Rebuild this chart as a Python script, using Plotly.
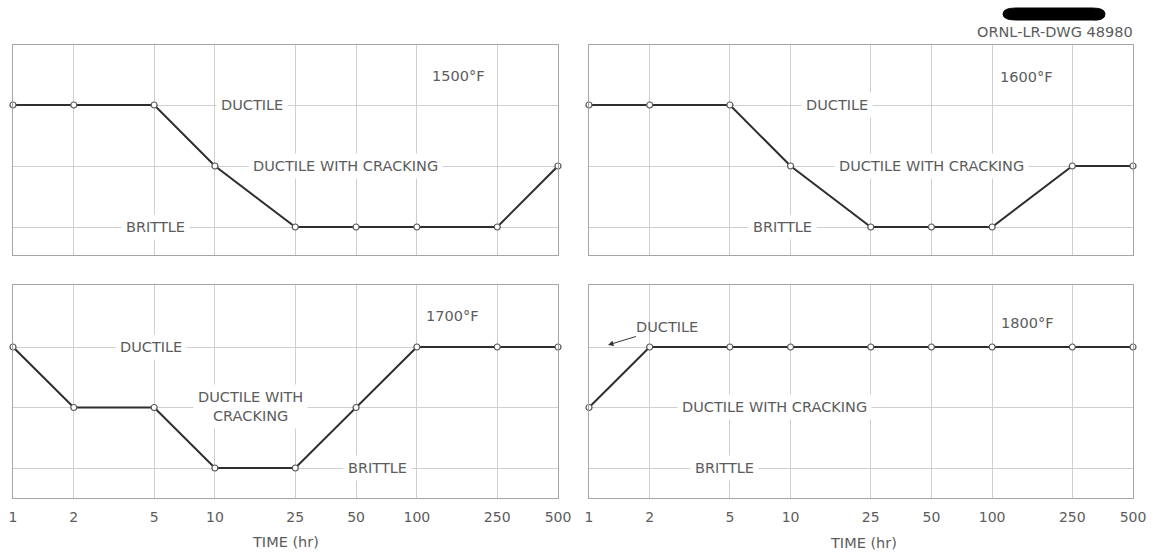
import math
import plotly.graph_objects as go

W, H = 1157, 553

# Exposure times (hr) and tick labels
times = [1, 2, 5, 10, 25, 50, 100, 250, 500]
time_labels = ["1", "2", "5", "10", "25", "50", "100", "250", "500"]

# Behaviour levels, bottom to top
level_names = ["BRITTLE", "DUCTILE WITH CRACKING", "DUCTILE"]
level_index = {"B": 0, "DC": 1, "D": 2}

# Observed behaviour at each exposure time
behavior_1500 = ["D", "D", "D", "DC", "B", "B", "B", "B", "DC"]
behavior_1600 = ["D", "D", "D", "DC", "B", "B", "B", "DC", "DC"]
behavior_1700 = ["D", "DC", "DC", "B", "B", "DC", "D", "D", "D"]
behavior_1800 = ["DC", "D", "D", "D", "D", "D", "D", "D", "D"]

temperatures = ["1500°F", "1600°F", "1700°F", "1800°F"]


def fx(px):
    return px / W


def fy(py):
    return 1 - py / H


TEXT = "#5c5c5c"
GRID = "#cfcfcf"
FRAME = "#a5a5a5"
FONT = "DejaVu Sans"

fig = go.Figure()

series = [behavior_1500, behavior_1600, behavior_1700, behavior_1800]
for i, beh in enumerate(series):
    n = "" if i == 0 else str(i + 1)
    fig.add_trace(go.Scatter(
        x=times,
        y=[level_index[s] for s in beh],
        xaxis="x" + n, yaxis="y" + n,
        mode="lines+markers",
        cliponaxis=False,
        line=dict(color="#2e2e2e", width=2),
        marker=dict(symbol="circle", size=6, color="white",
                    line=dict(color="#555555", width=1.2)),
        showlegend=False,
        hoverinfo="skip",
    ))

# Panel geometry (paper fractions)
x_left = [fx(13), fx(558)]
x_right = [fx(589), fx(1133)]
y_top = [fy(255), fy(45)]
y_bot = [fy(498), fy(285)]

y_range_top = [-28 / 61, 2 + 60 / 61]
y_range_bot = [-30 / 60.5, 2 + 62 / 60.5]


def xaxis(domain, anchor, labels):
    return dict(
        type="log", range=[0, math.log10(500)], domain=domain, anchor=anchor,
        tickvals=times, ticktext=time_labels, showticklabels=labels,
        ticks="", ticklabelstandoff=6,
        tickfont=dict(family=FONT, size=14, color=TEXT),
        showgrid=True, gridcolor=GRID, gridwidth=1, zeroline=False,
        showline=True, linecolor=FRAME, linewidth=1, mirror=True,
        automargin=False, fixedrange=True,
    )


def yaxis(domain, anchor, rng):
    return dict(
        range=rng, domain=domain, anchor=anchor,
        tickvals=[0, 1, 2], showticklabels=False, ticks="",
        showgrid=True, gridcolor=GRID, gridwidth=1, zeroline=False,
        showline=True, linecolor=FRAME, linewidth=1, mirror=True,
        automargin=False, fixedrange=True,
    )


annotations = []


def label(text, px, py, size=14.5, bg=True, **kw):
    d = dict(text=text, x=fx(px), y=fy(py), xref="paper", yref="paper",
             xanchor="center", yanchor="middle", showarrow=False,
             font=dict(family=FONT, size=size, color=TEXT))
    if bg:
        d.update(bgcolor="white", borderpad=4)
    d.update(kw)
    annotations.append(d)


# 1500°F
label("DUCTILE", 252, 105)
label("DUCTILE WITH CRACKING", 345, 166)
label("BRITTLE", 155, 227)
label(temperatures[0], 458, 76, bg=False)
# 1600°F
label("DUCTILE", 837, 105)
label("DUCTILE WITH CRACKING", 931, 166)
label("BRITTLE", 782, 227)
label(temperatures[1], 1026, 77, bg=False)
# 1700°F
label("DUCTILE", 151, 347)
label("DUCTILE WITH<br>CRACKING", 250, 406)
label("BRITTLE", 377, 468)
label(temperatures[2], 452, 316, bg=False)
# 1800°F
annotations.append(dict(
    text="DUCTILE", x=fx(608), y=fy(345), xref="paper", yref="paper",
    ax=59, ay=-18, showarrow=True, arrowhead=2, arrowsize=1.1,
    arrowwidth=1, arrowcolor="#333333", standoff=0,
    font=dict(family=FONT, size=14.5, color=TEXT),
))
label("DUCTILE WITH CRACKING", 774, 407)
label("BRITTLE", 725, 468)
label(temperatures[3], 1027, 323, bg=False)

# Axis titles and drawing number
label("TIME (hr)", 285, 542, bg=False)
label("TIME (hr)", 863, 543, bg=False)
label("ORNL-LR-DWG 48980", 1055, 32, bg=False)

# Redaction mark above the drawing number
blob = (
    f"M {fx(1003)},{fy(14)} "
    f"Q {fx(1003)},{fy(8)} {fx(1016)},{fy(8)} "
    f"L {fx(1092)},{fy(8)} "
    f"Q {fx(1105)},{fy(8)} {fx(1105)},{fy(14)} "
    f"Q {fx(1105)},{fy(21)} {fx(1092)},{fy(20)} "
    f"L {fx(1016)},{fy(20)} "
    f"Q {fx(1003)},{fy(20)} {fx(1003)},{fy(14)} Z"
)

fig.update_layout(
    width=W, height=H,
    margin=dict(l=0, r=0, t=0, b=0),
    paper_bgcolor="white", plot_bgcolor="white",
    xaxis=xaxis(x_left, "y", False),
    yaxis=yaxis(y_top, "x", y_range_top),
    xaxis2=xaxis(x_right, "y2", False),
    yaxis2=yaxis(y_top, "x2", y_range_top),
    xaxis3=xaxis(x_left, "y3", True),
    yaxis3=yaxis(y_bot, "x3", y_range_bot),
    xaxis4=xaxis(x_right, "y4", True),
    yaxis4=yaxis(y_bot, "x4", y_range_bot),
    annotations=annotations,
    shapes=[dict(type="path", path=blob, xref="paper", yref="paper",
                 fillcolor="black", line=dict(color="black", width=1))],
)

fig.write_html("out.html")
